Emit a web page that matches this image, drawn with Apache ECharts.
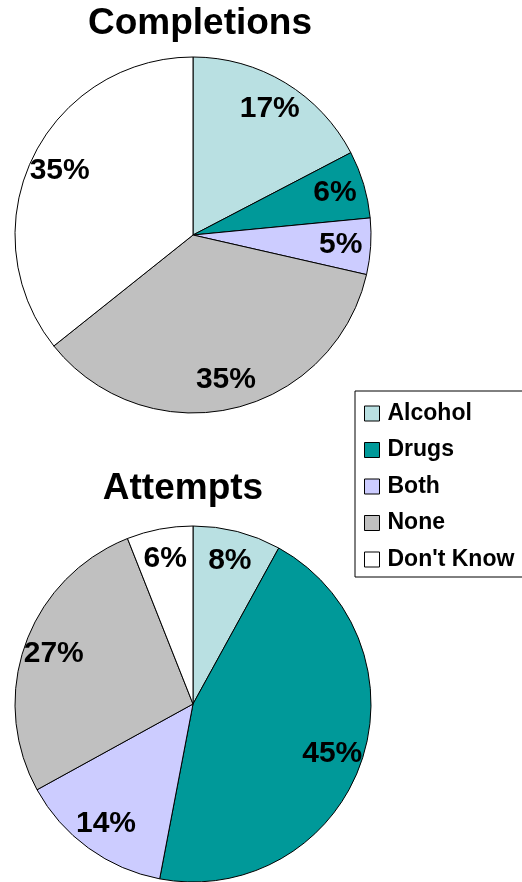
<!DOCTYPE html>
<html>
<head>
<meta charset="utf-8">
<script src="https://cdn.jsdelivr.net/npm/echarts@6/dist/echarts.min.js"></script>
<style>
  html, body { margin: 0; padding: 0; background: #fff; }
  #chart { width: 522px; height: 882px; }
</style>
</head>
<body>
<div id="chart"></div>
<script>
// Suicide outcome breakdown by substance involvement
const categories = ['Alcohol', 'Drugs', 'Both', 'None', "Don't Know"];
const completions = [17, 6, 5, 35, 35];
const attempts = [8, 45, 14, 27, 6];
const sliceColors = ['#B9E0E2', '#009999', '#CCCCFF', '#C0C0C0', '#FFFFFF'];

const FONT = 'Liberation Sans, Arial, sans-serif';
const R = 178;

function toData(values) {
  return categories.map((name, i) => ({
    name: name,
    value: values[i],
    itemStyle: { color: sliceColors[i] }
  }));
}

// Filled slices with black outlines
function slicePie(values, center) {
  return {
    type: 'pie',
    center: center,
    radius: [0, R],
    startAngle: 90,
    clockwise: true,
    silent: true,
    label: { show: false },
    labelLine: { show: false },
    itemStyle: { borderColor: '#000', borderWidth: 1 },
    data: toData(values)
  };
}

// Transparent ring used only to place the percentage labels near the rim
function labelPie(values, center) {
  return {
    type: 'pie',
    center: center,
    radius: [112, R],
    startAngle: 90,
    clockwise: true,
    silent: true,
    itemStyle: { color: 'rgba(0,0,0,0)', borderWidth: 0 },
    label: {
      show: true,
      position: 'inside',
      formatter: '{c}%',
      color: '#000',
      fontFamily: FONT,
      fontWeight: 'bold',
      fontSize: 30
    },
    labelLine: { show: false },
    data: categories.map((name, i) => ({ name: name, value: values[i] }))
  };
}

const chart = echarts.init(document.getElementById('chart'), null, { renderer: 'canvas' });
chart.setOption({
  backgroundColor: '#fff',
  animation: false,
  title: [
    {
      text: 'Completions', left: 200, top: 5, textAlign: 'center', padding: 0,
      textStyle: { fontFamily: FONT, fontWeight: 'bold', fontSize: 37, color: '#000' }
    },
    {
      text: 'Attempts', left: 183, top: 470, textAlign: 'center', padding: 0,
      textStyle: { fontFamily: FONT, fontWeight: 'bold', fontSize: 37, color: '#000' }
    }
  ],
  legend: {
    orient: 'vertical',
    left: 355,
    top: 391,
    data: categories,
    icon: 'rect',
    itemWidth: 15,
    itemHeight: 15,
    itemGap: 13.5,
    padding: [11, 20, 6, 9],
    borderColor: '#000',
    borderWidth: 1,
    selectedMode: false,
    itemStyle: { borderColor: '#000', borderWidth: 1 },
    textStyle: { fontFamily: FONT, fontWeight: 'bold', fontSize: 23, color: '#000', lineHeight: 22, padding: [0, 0, 0, 3] }
  },
  series: [
    slicePie(completions, [193, 235]),
    slicePie(attempts, [193, 704]),
    labelPie(completions, [193, 235]),
    labelPie(attempts, [193, 704])
  ]
});
</script>
</body>
</html>
